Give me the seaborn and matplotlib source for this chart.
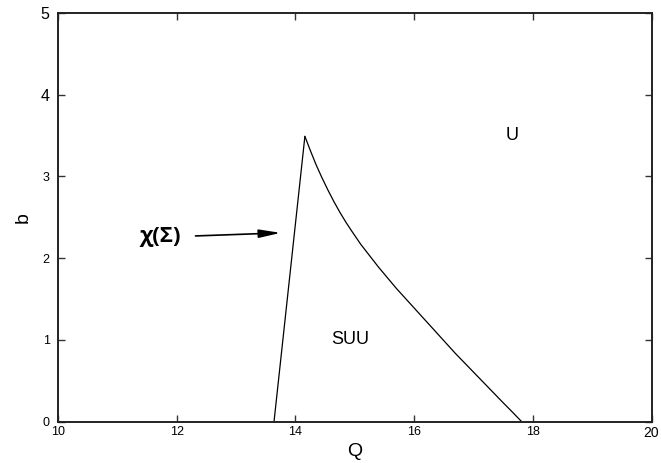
import pandas as pd
import seaborn as sns
import matplotlib.pyplot as plt

# boundary of the SUU region
left_q = [13.64, 14.16]
left_b = [0.0, 3.49]
right_q = [14.16, 14.25, 14.35, 14.45, 14.55, 14.65, 14.75, 14.85, 14.95, 15.10, 15.25,
           15.40, 15.55, 15.70, 15.90, 16.10, 16.30, 16.50, 16.70, 16.90, 17.10, 17.30,
           17.50, 17.65, 17.81]
right_b = [3.49, 3.32, 3.14, 2.98, 2.83, 2.69, 2.56, 2.44, 2.33, 2.17, 2.03,
           1.89, 1.76, 1.63, 1.47, 1.31, 1.15, 0.99, 0.83, 0.68, 0.53, 0.38,
           0.23, 0.12, 0.0]

x_ticks = [10, 12, 14, 16, 18, 20]
y_ticks = [0, 1, 2, 3, 4, 5]

left = pd.DataFrame({'Q': left_q, 'b': left_b})
right = pd.DataFrame({'Q': right_q, 'b': right_b})

sns.set_style("ticks")
plt.rcParams['font.family'] = ['Liberation Sans', 'DejaVu Sans']
plt.rcParams['text.color'] = 'black'

fig = plt.figure(figsize=(6.61, 4.63), dpi=100)
ax = fig.add_axes([58 / 661, 1 - 421.5 / 463, (651.5 - 58) / 661, (421.5 - 13) / 463])

sns.lineplot(data=left, x='Q', y='b', sort=False, color='black', lw=0.9, ax=ax)
sns.lineplot(data=right, x='Q', y='b', sort=False, color='black', lw=0.9, ax=ax)

ax.set(xlim=(10, 20), ylim=(0, 5))
ax.set_xticks(x_ticks)
ax.set_yticks(y_ticks)
ax.tick_params(direction='in', length=5, width=1, top=True, right=True,
               labelsize=9, colors='#333333', labelcolor='black')
ax.tick_params(axis='y', pad=6)
# the upper y labels (and 20) are printed a bit larger in the original
for lbl in ax.get_yticklabels():
    if lbl.get_text() in ('4', '5'):
        lbl.set_fontsize(11.5)
for lbl in ax.get_xticklabels():
    if lbl.get_text() == '20':
        lbl.set_fontsize(10)
for s in ax.spines.values():
    s.set_linewidth(1.4)
    s.set_color('#222222')
ax.set_xlabel('Q', fontsize=14, labelpad=2, color='black')
ax.set_ylabel('b', fontsize=14, color='black')
ax.yaxis.set_label_coords(-0.045, 0.5)

ax.text(17.65, 3.5, 'U', fontsize=13, ha='center', va='center')
ax.text(14.92, 1.0, 'SUU', fontsize=13, ha='center', va='center')
ax.text(11.72, 2.26, 'χ(Σ)', fontsize=16, fontweight='bold', ha='center', va='center',
        family=['Open Sans', 'DejaVu Sans'])
ax.annotate('', xy=(13.8, 2.31), xytext=(12.27, 2.27),
            arrowprops=dict(arrowstyle='-|>,head_length=1.3,head_width=0.25',
                            color='black', lw=1.2))

fig.savefig('out.png', dpi=100)
